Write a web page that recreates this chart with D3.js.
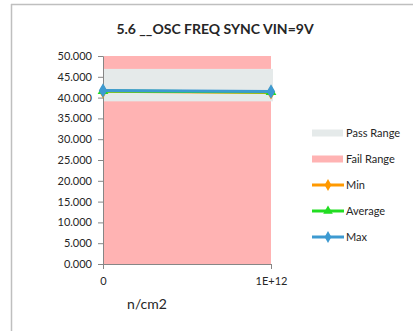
<!DOCTYPE html>
<html>
<head>
<meta charset="utf-8">
<script src="https://cdn.jsdelivr.net/npm/d3@7"></script>
<style>
  html, body { margin: 0; padding: 0; background: #fff; }
  svg { display: block; }
  text { font-family: Lato, "Open Sans", sans-serif; fill: #262626; }
</style>
</head>
<body>
<svg id="chart" width="413" height="331"></svg>
<script>
// Fluence points (x categories)
const categories = ["0", "1E+12"];
// Measured oscillator frequency per fluence point
const minValues = [41.5, 41.25];
const avgValues = [41.6, 41.35];
const maxValues = [41.7, 41.45];
// Spec limits
const passRange = [39.1, 46.9];
const failRange = [0, 50];
const yTicks = [0, 5, 10, 15, 20, 25, 30, 35, 40, 45, 50];

const svg = d3.select("#chart");

// Outer frame (top and left edges)
svg.append("line").attr("x1", 11).attr("x2", 413).attr("y1", 4.5).attr("y2", 4.5)
  .attr("stroke", "#bfbfbf").attr("stroke-width", 1.5);
svg.append("line").attr("x1", 11.5).attr("x2", 11.5).attr("y1", 4).attr("y2", 331)
  .attr("stroke", "#bfbfbf").attr("stroke-width", 1.5);

const x = d3.scalePoint().domain(categories).range([103, 271]);
const y = d3.scaleLinear().domain([0, 50]).range([264, 56]);

// Fail range background
svg.append("rect")
  .attr("x", x(categories[0]) + 1).attr("width", x(categories[1]) - x(categories[0]) - 1)
  .attr("y", y(failRange[1])).attr("height", y(failRange[0]) - y(failRange[1]))
  .attr("fill", "#ffb3b3");
// Pass range band
svg.append("rect")
  .attr("x", x(categories[0]) + 1).attr("width", x(categories[1]) - x(categories[0]) + 1)
  .attr("y", y(passRange[1])).attr("height", y(passRange[0]) - y(passRange[1]))
  .attr("fill", "#e5eaea");

// Axes
const yAxis = svg.append("g").attr("transform", `translate(${x(categories[0])},0)`)
  .call(d3.axisLeft(y).tickValues(yTicks).tickFormat(d3.format(".3f")).tickSize(5).tickPadding(6));
const xAxis = svg.append("g").attr("transform", `translate(0,${y(0)})`)
  .call(d3.axisBottom(x).tickSize(5).tickPadding(8));
[yAxis, xAxis].forEach(g => {
  g.select(".domain").attr("stroke", "#868686");
  g.selectAll(".tick line").attr("stroke", "#868686");
  g.selectAll("text").style("font-family", "Lato, 'Open Sans', sans-serif")
    .style("font-size", "11px").attr("fill", "#262626");
});

// Series
const series = [
  { name: "Min", values: minValues, color: "#ff9900", marker: "diamond" },
  { name: "Average", values: avgValues, color: "#22dd22", marker: "triangle" },
  { name: "Max", values: maxValues, color: "#3d9ad1", marker: "diamond" }
];
const symbolOf = m => m === "triangle" ? d3.symbolTriangle : d3.symbolDiamond;
const line = d3.line().x((d, i) => x(categories[i])).y(d => y(d));

series.forEach(s => {
  svg.append("path").datum(s.values).attr("d", line)
    .attr("fill", "none").attr("stroke", s.color).attr("stroke-width", 3);
  svg.selectAll(null).data(s.values).enter().append("path")
    .attr("d", d3.symbol().type(symbolOf(s.marker)).size(s.marker === "triangle" ? 50 : 60))
    .attr("transform", (d, i) => `translate(${x(categories[i])},${y(d)})`)
    .attr("fill", s.color);
});

// Title
svg.append("text").attr("x", 215).attr("y", 34).attr("text-anchor", "middle")
  .style("font-size", "14px").style("font-weight", "bold").text("5.6 __OSC FREQ SYNC VIN=9V");

// X axis title
svg.append("text").attr("x", 147).attr("y", 309).attr("text-anchor", "middle")
  .style("font-size", "14px").text("n/cm2");

// Legend
const legend = [
  { name: "Pass Range", type: "rect", color: "#e5eaea" },
  { name: "Fail Range", type: "rect", color: "#ffb3b3" },
  { name: "Min", type: "line", color: "#ff9900", marker: "diamond" },
  { name: "Average", type: "line", color: "#22dd22", marker: "triangle" },
  { name: "Max", type: "line", color: "#3d9ad1", marker: "diamond" }
];
const ly = [133, 159, 185, 211, 237];
legend.forEach((d, i) => {
  const g = svg.append("g").attr("transform", `translate(312,${ly[i]})`);
  if (d.type === "rect") {
    g.append("rect").attr("x", 0).attr("y", -3.5).attr("width", 31).attr("height", 7).attr("fill", d.color);
  } else {
    g.append("line").attr("x1", 0).attr("x2", 32).attr("y1", 0).attr("y2", 0)
      .attr("stroke", d.color).attr("stroke-width", 3);
    g.append("path").attr("d", d3.symbol().type(symbolOf(d.marker)).size(d.marker === "triangle" ? 40 : 40))
      .attr("transform", "translate(16,0)").attr("fill", d.color);
  }
  g.append("text").attr("x", 34).attr("y", 4).style("font-size", "11px").text(d.name);
});
</script>
</body>
</html>
